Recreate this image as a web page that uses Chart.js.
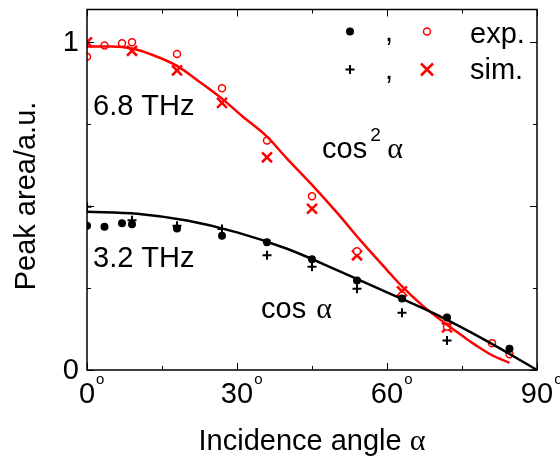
<!DOCTYPE html>
<html>
<head>
<meta charset="utf-8">
<script src="https://cdn.jsdelivr.net/npm/chart.js@4.4.1/dist/chart.umd.min.js"></script>
<style>
  body { margin: 0; background: #fff; }
  #wrap { width: 560px; height: 460px; }
</style>
</head>
<body>
<div id="wrap"><canvas id="peak-chart"></canvas></div>
<script>
// 6.8 THz, measured (open circles) and simulated (crosses)
const angles68Exp = [0, 3.5, 7, 9, 18, 27, 36, 45, 54, 63, 72, 81, 84.5];
const peak68Exp = [0.956, 0.99, 0.997, 1.0, 0.964, 0.86, 0.70, 0.53, 0.362, 0.227, 0.132, 0.082, 0.048];
const angles68Sim = [0, 9, 18, 27, 36, 45, 54, 63, 72];
const peak68Sim = [1.0, 0.974, 0.914, 0.815, 0.649, 0.492, 0.35, 0.24, 0.13];

// 3.2 THz, measured (dots) and simulated (plus)
const angles32Exp = [0, 3.5, 7, 9, 18, 27, 36, 45, 54, 63, 72, 84.5];
const peak32Exp = [0.44, 0.437, 0.448, 0.445, 0.432, 0.41, 0.39, 0.338, 0.273, 0.218, 0.16, 0.065];
const angles32Sim = [0, 9, 18, 27, 36, 45, 54, 63, 72];
const peak32Sim = [0.498, 0.457, 0.44, 0.43, 0.35, 0.315, 0.248, 0.175, 0.09];

// fitted curves
const fit68Angles = [0, 5, 9, 13, 18, 22, 27, 31, 36, 40, 45, 50, 55, 60, 63, 67, 72, 75, 78, 81, 84.5];
const fit68 = [0.987, 0.987, 0.981, 0.962, 0.928, 0.885, 0.828, 0.775, 0.712, 0.645, 0.565, 0.48, 0.39, 0.305, 0.255, 0.198, 0.138, 0.105, 0.073, 0.045, 0.022];
const fit32Angles = [0, 10, 20, 30, 40, 50, 60, 70, 80, 90];
const fit32 = [0.483, 0.477, 0.456, 0.42, 0.37, 0.305, 0.237, 0.168, 0.088, 0];

// axis ticks
const xMajorTicks = [0, 30, 60, 90];
const xMinorTicks = [15, 45, 75];
const yMajorTicks = [0, 0.5, 1];
const yMinorTicks = [0.25, 0.75];
const yTickLabels = [[0, '0'], [1, '1']];

const RED = '#ff0000';
const SANS = '"Liberation Sans", Arial, sans-serif';
const SERIF = '"Liberation Serif", "Times New Roman", serif';

const toPoints = (xs, ys) => xs.map((x, i) => ({ x: x, y: ys[i] }));

const drawDot = (ctx, x, y) => {
    ctx.beginPath();
    ctx.fillStyle = '#000';
    ctx.arc(x, y, 4, 0, Math.PI * 2);
    ctx.fill();
};
const drawRing = (ctx, x, y) => {
    ctx.beginPath();
    ctx.fillStyle = '#fff';
    ctx.strokeStyle = RED;
    ctx.lineWidth = 1.5;
    ctx.arc(x, y, 3.5, 0, Math.PI * 2);
    ctx.fill();
    ctx.stroke();
};
const drawPlus = (ctx, x, y) => {
    ctx.beginPath();
    ctx.strokeStyle = '#000';
    ctx.lineWidth = 2;
    ctx.moveTo(x - 4.5, y); ctx.lineTo(x + 4.5, y);
    ctx.moveTo(x, y - 4.5); ctx.lineTo(x, y + 4.5);
    ctx.stroke();
};
const drawCross = (ctx, x, y) => {
    ctx.beginPath();
    ctx.strokeStyle = RED;
    ctx.lineWidth = 2.5;
    ctx.moveTo(x - 6, y - 6); ctx.lineTo(x + 6, y + 6);
    ctx.moveTo(x - 6, y + 6); ctx.lineTo(x + 6, y - 6);
    ctx.stroke();
};

const framePlugin = {
    id: 'frame',
    afterDatasetsDraw(chart) {
        const { ctx, chartArea: a, scales } = chart;
        const xs = scales.x, ys = scales.y;
        ctx.save();

        // box
        ctx.strokeStyle = '#000';
        ctx.lineWidth = 1.5;
        ctx.strokeRect(a.left, a.top, a.right - a.left, a.bottom - a.top);

        // inward ticks on all four sides
        ctx.lineWidth = 1;
        ctx.beginPath();
        const xTick = (v, len) => {
            const px = Math.round(xs.getPixelForValue(v)) + 0.5;
            ctx.moveTo(px, a.bottom); ctx.lineTo(px, a.bottom - len);
            ctx.moveTo(px, a.top); ctx.lineTo(px, a.top + len);
        };
        const yTick = (v, len) => {
            const py = Math.round(ys.getPixelForValue(v)) + 0.5;
            ctx.moveTo(a.left, py); ctx.lineTo(a.left + len, py);
            ctx.moveTo(a.right, py); ctx.lineTo(a.right - len, py);
        };
        xMajorTicks.forEach(v => xTick(v, 7));
        xMinorTicks.forEach(v => xTick(v, 4));
        yMajorTicks.forEach(v => yTick(v, 7));
        yMinorTicks.forEach(v => yTick(v, 4));
        ctx.stroke();

        // x tick labels with raised degree sign
        ctx.fillStyle = '#000';
        xMajorTicks.forEach(v => {
            const px = xs.getPixelForValue(v);
            ctx.font = '29px ' + SANS;
            ctx.textAlign = 'center';
            ctx.textBaseline = 'alphabetic';
            const label = String(v);
            const w = ctx.measureText(label).width;
            ctx.fillText(label, px, a.bottom + 33);
            ctx.font = '15px ' + SANS;
            ctx.textAlign = 'left';
            ctx.fillText('o', px + w / 2 + 1, a.bottom + 14);
        });

        // y tick labels
        ctx.font = '29px ' + SANS;
        ctx.textAlign = 'right';
        ctx.textBaseline = 'middle';
        yTickLabels.forEach(([v, t]) => {
            ctx.fillText(t, a.left - 8, ys.getPixelForValue(v) + 1);
        });

        // axis titles
        ctx.textBaseline = 'alphabetic';
        ctx.font = '29px ' + SANS;
        const xt = 'Incidence angle ';
        const xtW = ctx.measureText(xt).width;
        ctx.font = '30px ' + SERIF;
        const alW = ctx.measureText('\u03b1').width;
        let sx = (a.left + a.right) / 2 - (xtW + alW) / 2;
        ctx.textAlign = 'left';
        ctx.font = '29px ' + SANS;
        ctx.fillText(xt, sx, a.bottom + 80);
        ctx.font = '30px ' + SERIF;
        ctx.fillText('\u03b1', sx + xtW, a.bottom + 80);

        ctx.save();
        ctx.translate(35, 196);
        ctx.rotate(-Math.PI / 2);
        ctx.font = '29px ' + SANS;
        ctx.textAlign = 'center';
        ctx.fillText('Peak area/a.u.', 0, 0);
        ctx.restore();

        // annotations placed in data coordinates
        const at = (x, y) => [xs.getPixelForValue(x), ys.getPixelForValue(y)];
        ctx.textAlign = 'left';
        ctx.font = '29px ' + SANS;
        let p = at(1.2, 0.778);
        ctx.fillText('6.8 THz', p[0], p[1]);
        p = at(1.2, 0.315);
        ctx.fillText('3.2 THz', p[0], p[1]);

        p = at(47, 0.646);
        ctx.font = '29px ' + SANS;
        let w = ctx.measureText('cos').width;
        ctx.fillText('cos', p[0], p[1]);
        ctx.font = '19px ' + SANS;
        ctx.fillText('2', p[0] + w + 3, p[1] - 17);
        ctx.font = '30px ' + SERIF;
        ctx.fillText('\u03b1', p[0] + w + 20, p[1]);

        p = at(34.8, 0.159);
        ctx.font = '29px ' + SANS;
        w = ctx.measureText('cos').width;
        ctx.fillText('cos', p[0], p[1]);
        ctx.font = '30px ' + SERIF;
        ctx.fillText('\u03b1', p[0] + w + 10, p[1]);

        // legend
        const lx = a.right, ly = a.top;
        drawDot(ctx, lx - 187, ly + 22);
        drawRing(ctx, lx - 110, ly + 22);
        drawPlus(ctx, lx - 187, ly + 60);
        drawCross(ctx, lx - 110, ly + 60);
        ctx.fillStyle = '#000';
        ctx.font = '29px ' + SANS;
        ctx.textAlign = 'left';
        ctx.fillText(',', lx - 152, ly + 31);
        ctx.fillText(',', lx - 152, ly + 69);
        ctx.fillText('exp.', lx - 67, ly + 33);
        ctx.fillText('sim.', lx - 67, ly + 69);

        ctx.restore();
    }
};

const ctx = document.getElementById('peak-chart').getContext('2d');

const data = {
    datasets: [
        {
            label: 'fit 3.2 THz',
            data: toPoints(fit32Angles, fit32),
            showLine: true,
            borderColor: '#000',
            borderWidth: 2.5,
            pointRadius: 0,
            cubicInterpolationMode: 'monotone',
        },
        {
            label: 'exp. 3.2 THz',
            data: toPoints(angles32Exp, peak32Exp),
            pointStyle: 'circle',
            pointRadius: 4,
            backgroundColor: '#000',
            borderColor: '#000',
            borderWidth: 0,
        },
        {
            label: 'sim. 3.2 THz',
            data: toPoints(angles32Sim, peak32Sim),
            pointStyle: 'cross',
            pointRadius: 4.5,
            borderColor: '#000',
            borderWidth: 2,
        },
        {
            label: 'fit 6.8 THz',
            data: toPoints(fit68Angles, fit68),
            showLine: true,
            borderColor: RED,
            borderWidth: 2.5,
            pointRadius: 0,
            cubicInterpolationMode: 'monotone',
        },
        {
            label: 'exp. 6.8 THz',
            data: toPoints(angles68Exp, peak68Exp),
            pointStyle: 'circle',
            pointRadius: 3.5,
            backgroundColor: '#fff',
            borderColor: RED,
            borderWidth: 1.5,
        },
        {
            label: 'sim. 6.8 THz',
            data: toPoints(angles68Sim, peak68Sim),
            pointStyle: 'crossRot',
            pointRadius: 7,
            borderColor: RED,
            borderWidth: 2.5,
        },
    ]
};
data.datasets.forEach(d => { d.clip = 0; });

const config = {
    type: 'scatter',
    data: data,
    options: {
        responsive: true,
        maintainAspectRatio: false,
        animation: false,
        layout: { padding: { top: 4, right: 23, left: 0, bottom: 0 } },
        plugins: {
            legend: { display: false },
            tooltip: { enabled: false },
        },
        scales: {
            x: {
                type: 'linear',
                min: 0,
                max: 90,
                grid: { display: false },
                border: { display: false },
                ticks: { display: false },
                afterFit: (scale) => { scale.height = 90; },
            },
            y: {
                type: 'linear',
                min: 0,
                max: 1.1,
                grid: { display: false },
                border: { display: false },
                ticks: { display: false },
                afterFit: (scale) => { scale.width = 87; },
            },
        },
    },
    plugins: [framePlugin],
};

const peakChart = new Chart(ctx, config);
</script>
</body>
</html>
